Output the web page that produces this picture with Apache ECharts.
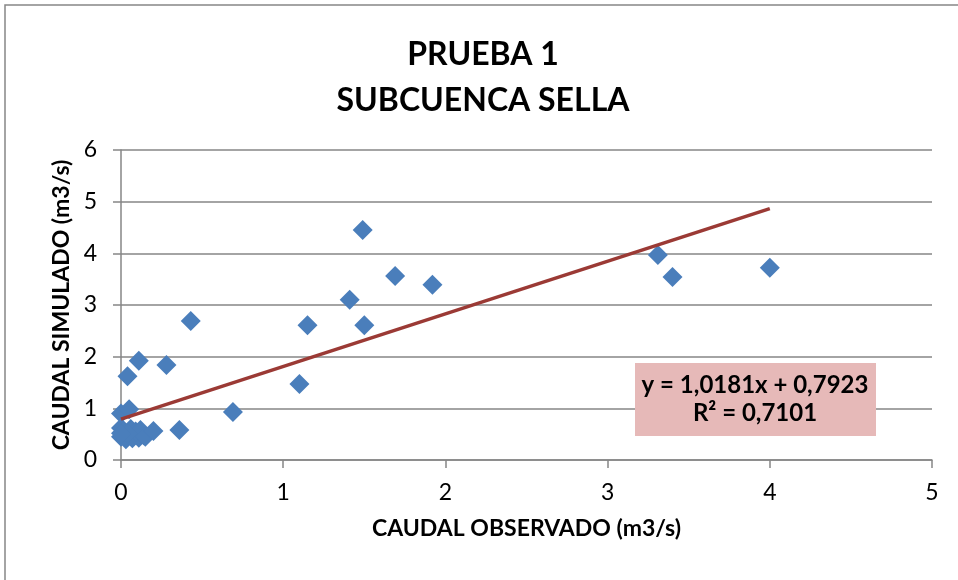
<!DOCTYPE html>
<html>
<head>
<meta charset="utf-8">
<script src="https://cdn.jsdelivr.net/npm/echarts@6/dist/echarts.min.js"></script>
<style>
  html, body { margin: 0; padding: 0; background: #fff; }
  #chart { width: 958px; height: 580px; }
</style>
</head>
<body>
<div id="chart"></div>
<script>
// caudal observado (x) y simulado (y), m3/s
const observado = [0.00, 0.05, 0.00, 0.03, 0.07, 0.11, 0.14, 0.00, 0.02, 0.06, 0.09, 0.12, 0.04, 0.00, 0.15,
  0.04, 0.11, 0.28, 0.20, 0.36, 0.43, 0.69, 1.10, 1.15, 1.41, 1.49, 1.50, 1.69, 1.92, 3.31, 3.40, 4.00]
const simulado = [0.90, 0.98, 0.45, 0.40, 0.42, 0.43, 0.48, 0.62, 0.55, 0.60, 0.55, 0.58, 0.50, 0.52, 0.45,
  1.62, 1.92, 1.84, 0.56, 0.58, 2.69, 0.93, 1.47, 2.61, 3.10, 4.45, 2.61, 3.56, 3.39, 3.97, 3.54, 3.72]
// linea de tendencia lineal
const pendiente = 1.0181
const ordenada = 0.7923
const r2 = 0.7101
const xTicks = [0, 1, 2, 3, 4, 5]
const yTicks = [0, 1, 2, 3, 4, 5, 6]

const puntos = observado.map((x, i) => [x, simulado[i]])
const xMin = Math.min(...observado)
const xMax = Math.max(...observado)
const tendencia = [[xMin, pendiente * xMin + ordenada], [xMax, pendiente * xMax + ordenada]]

const fmt = (v) => v.toFixed(4).replace('.', ',')
const font = 'Lato, "Open Sans", sans-serif'

const myChart = echarts.init(document.getElementById('chart'))
myChart.setOption({
  animation: false,
  textStyle: {fontFamily: font},
  title: {
    text: 'PRUEBA 1\nSUBCUENCA SELLA',
    left: 478,
    textAlign: 'center',
    top: 27,
    textStyle: {fontFamily: font, fontSize: 32, fontWeight: 'bold', color: '#000', lineHeight: 46}
  },
  grid: {left: 121, right: 26, top: 150, bottom: 120},
  xAxis: {
    type: 'value',
    min: xTicks[0],
    max: xTicks[xTicks.length - 1],
    interval: 1,
    name: 'CAUDAL OBSERVADO (m3/s)',
    nameLocation: 'middle',
    nameGap: 57,
    nameTextStyle: {fontFamily: font, fontSize: 23, fontWeight: 'bold', color: '#000'},
    axisLine: {show: true, onZero: false, lineStyle: {color: '#868686', width: 1.5}},
    axisTick: {show: true, length: 8, lineStyle: {color: '#868686', width: 1.5}},
    axisLabel: {fontSize: 23, color: '#000', margin: 21},
    splitLine: {show: false}
  },
  yAxis: {
    type: 'value',
    min: yTicks[0],
    max: yTicks[yTicks.length - 1],
    interval: 1,
    name: 'CAUDAL SIMULADO (m3/s)',
    nameLocation: 'middle',
    nameGap: 48,
    nameTextStyle: {fontFamily: font, fontSize: 23, fontWeight: 'bold', color: '#000'},
    axisLine: {show: true, onZero: false, lineStyle: {color: '#868686', width: 1.5}},
    axisTick: {show: true, length: 8, lineStyle: {color: '#868686', width: 1.5}},
    axisLabel: {fontSize: 23, color: '#000', margin: 24},
    splitLine: {show: true, lineStyle: {color: '#868686', width: 1.5}}
  },
  series: [
    {
      type: 'scatter',
      data: puntos,
      symbol: 'diamond',
      symbolSize: [20, 20],
      itemStyle: {color: '#4a7ebb', opacity: 1}
    },
    {
      type: 'line',
      data: tendencia,
      symbol: 'none',
      lineStyle: {color: '#9b3a35', width: 3.5},
      z: 3
    }
  ],
  graphic: [
    {
      type: 'rect',
      shape: {x: 5, y: 5, width: 960, height: 600},
      style: {fill: 'none', stroke: '#868686', lineWidth: 1.5},
      silent: true
    },
    {
      type: 'rect',
      shape: {x: 635, y: 363, width: 241, height: 73},
      style: {fill: '#e6b9b8'},
      z: 10
    },
    {
      type: 'text',
      x: 755,
      y: 399,
      style: {
        text: 'y = ' + fmt(pendiente) + 'x + ' + fmt(ordenada) + '\nR² = ' + fmt(r2),
        font: 'bold 24px ' + font,
        fill: '#000',
        align: 'center',
        verticalAlign: 'middle',
        lineHeight: 28
      },
      z: 11
    }
  ]
})
</script>
</body>
</html>
